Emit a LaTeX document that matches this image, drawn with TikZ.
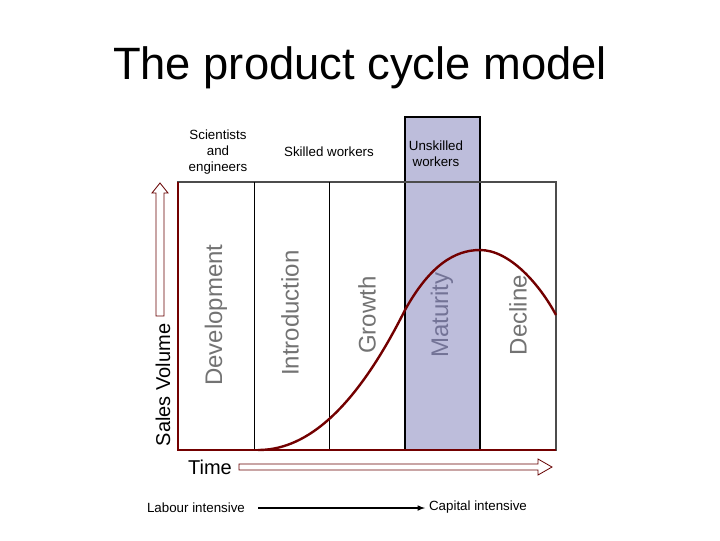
\documentclass[tikz,border=0pt]{standalone}
\usepackage{fontspec}
\setmainfont{Liberation Sans}
\definecolor{matc}{RGB}{115,115,150}
\tikzset{
 phase/.style={rotate=90,text=black!55,font=\fontsize{18}{18}\selectfont},
 lab/.style={font=\fontsize{10}{12}\selectfont,align=center},
 hollow/.style={draw=red!40!black,fill=white,line width=0.6pt},
 axis/.style={draw=red!45!black,line width=2pt},
}
\begin{document}
\begin{tikzpicture}[x=0.75pt,y=-0.75pt]
\useasboundingbox (0,0) rectangle (720,540);
\node (title) at (360,68) {\fontsize{34}{36}\selectfont The product cycle model};
\fill[blue!30!gray!40] (405,117) rectangle (480,450);
\draw[line width=1.5pt] (405,117) rectangle (480,450);
\draw[black!70,line width=0.8pt] (178,182) rectangle (556,450);
\foreach \x in {254,329} \draw[line width=0.6pt] (\x,182) -- (\x,450);
\draw[red!45!black,line width=1.8pt] (258,450) .. controls (300,450) and (350,420) .. (405,310)
  .. controls (430,265) and (455,250) .. (480,250) .. controls (510,250) and (540,285) .. (556,315);
\draw[axis] (178,182) -- (178,450) -- (556,450);
\node[phase] (dev) at (216,315) {Development};
\node[phase] (intro) at (290,313) {Introduction};
\node[phase] (gro) at (367,315) {Growth};
\node[phase,text=matc] (mat) at (442,315) {Maturity};
\node[phase] (dec) at (518,315) {Decline};
\node[lab] (sci) at (218,152) {Scientists\\and\\engineers};
\node[lab] (sk) at (329,152) {Skilled workers};
\node[lab] (un) at (436,154) {Unskilled\\workers};
\node[rotate=90,font=\fontsize{15}{15}\selectfont] (sv) at (163,385) {Sales Volume};
\node[font=\fontsize{15}{15}\selectfont] (time) at (210,467) {Time};
\draw[hollow] (156,316) -- (156,193) -- (152,193) -- (160,183) -- (168,193) -- (164,193) -- (164,316) -- cycle;
\draw[hollow] (239,464) -- (538,464) -- (538,459) -- (552,467) -- (538,475) -- (538,470) -- (239,470) -- cycle;
\node[lab] (li) at (196,508) {Labour intensive};
\node[lab] (ci) at (478,507) {Capital intensive};
\draw[-latex,line width=0.9pt] (258,508) -- (425,508);
\end{tikzpicture}
\end{document}
